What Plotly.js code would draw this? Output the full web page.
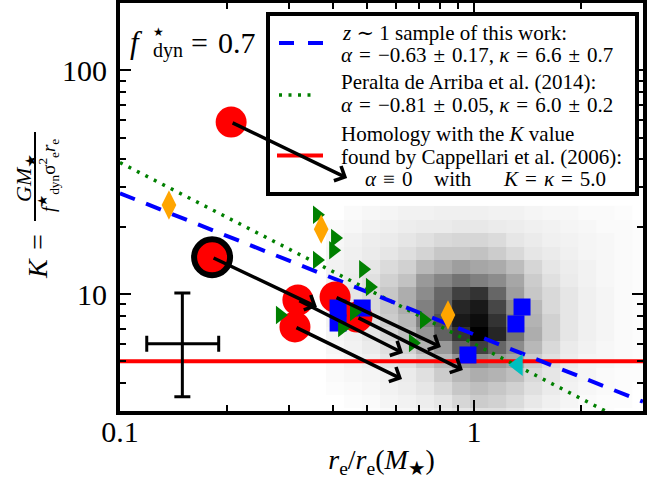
<!DOCTYPE html>
<html>
<head>
<meta charset="utf-8">
<script src="https://cdn.plot.ly/plotly-3.0.1.min.js"></script>
<style>html,body{margin:0;padding:0;background:#fff;}#chart{width:649px;height:480px;}</style>
</head>
<body>
<div id="chart"></div>
<script>
// ---------------- data ----------------
// fit / reference lines, endpoints at the axis limits
const fitX = [0.1, 3.0];
const thisWorkK = [28.2, 3.30];      // alpha=-0.63, kappa=6.6
const peraltaK  = [38.7, 2.46];      // alpha=-0.81, kappa=6.0
const homologyK = [5.0, 5.0];        // K = 5.0

// red circles (z~1 sample) and where their arrows point
const redX = [0.206, 0.318, 0.312, 0.405, 0.467];
const redY = [58.7, 9.40, 7.13, 9.70, 7.89];
const redEndX = [0.438, 0.630, 0.626, 0.806, 0.930];
const redEndY = [33.0, 5.45, 4.17, 5.80, 4.57];

// highlighted (outlined) red circle
const hiX = [0.182];
const hiY = [14.6];
const hiEndX = [0.360];
const hiEndY = [8.75];

// blue squares
const blueX = [0.961, 1.366, 1.313, 0.413, 0.413, 0.483];
const blueY = [5.34, 8.75, 7.35, 8.66, 7.42, 8.66];

// green right-pointing triangles
const greenX = [0.360, 0.405, 0.400, 0.360, 0.486, 0.508, 0.283, 0.458, 0.424, 0.722, 0.672];
const greenY = [22.6, 17.8, 15.7, 14.2, 12.9, 10.75, 8.06, 8.31, 7.05, 7.65, 6.04];

// orange thin diamonds
const orangeX = [0.1375, 0.370, 0.844];
const orangeY = [25.0, 19.5, 8.06];

// cyan left-pointing triangle
const cyanX = [1.33];
const cyanY = [4.82];

// typical error bar
const errX = [0.15];
const errY = [6.0];
const errXPlus = [0.040];
const errXMinus = [0.031];
const errYPlus = [4.1];
const errYMinus = [2.53];

// grey 2-D histogram of the comparison sample (edges + relative density, top row first)
const heatXEdges = [0.382, 0.429, 0.483, 0.542, 0.610, 0.685, 0.771, 0.866, 0.974, 1.095, 1.231, 1.383, 1.555, 1.748, 1.965, 2.209, 2.484, 2.792, 3.139];
const heatYEdgesTopDown = [24.75, 21.54, 18.75, 16.31, 14.20, 12.35, 10.75, 9.36, 8.15, 7.09, 6.17, 5.37, 4.67, 4.06, 3.54, 3.08, 2.68];
const heatZTopDown = [
 [0.00,0.02,0.03,0.04,0.05,0.05,0.06,0.06,0.06,0.05,0.05,0.04,0.03,0.03,0.02,0.02,0.01,0.00],
 [0.02,0.03,0.05,0.06,0.07,0.08,0.08,0.09,0.09,0.08,0.07,0.06,0.05,0.04,0.03,0.02,0.02,0.01],
 [0.03,0.05,0.07,0.08,0.10,0.12,0.15,0.16,0.16,0.14,0.10,0.08,0.06,0.05,0.04,0.03,0.02,0.01],
 [0.04,0.06,0.08,0.10,0.13,0.17,0.22,0.22,0.24,0.20,0.15,0.10,0.08,0.06,0.04,0.03,0.02,0.01],
 [0.05,0.07,0.10,0.14,0.18,0.28,0.33,0.38,0.35,0.33,0.26,0.16,0.10,0.07,0.05,0.03,0.02,0.01],
 [0.05,0.08,0.12,0.18,0.24,0.40,0.48,0.55,0.50,0.45,0.35,0.20,0.12,0.08,0.05,0.03,0.02,0.01],
 [0.06,0.10,0.15,0.22,0.32,0.45,0.60,0.75,0.80,0.60,0.38,0.22,0.15,0.10,0.06,0.04,0.02,0.01],
 [0.06,0.10,0.15,0.22,0.32,0.50,0.62,0.85,0.90,0.72,0.45,0.28,0.15,0.10,0.06,0.04,0.02,0.01],
 [0.05,0.08,0.12,0.20,0.28,0.50,0.68,0.90,0.95,0.80,0.50,0.30,0.18,0.10,0.06,0.04,0.02,0.01],
 [0.04,0.06,0.10,0.16,0.25,0.42,0.62,0.80,1.00,0.85,0.55,0.32,0.18,0.10,0.06,0.04,0.02,0.01],
 [0.03,0.05,0.08,0.12,0.18,0.30,0.40,0.62,0.75,0.60,0.45,0.28,0.15,0.08,0.05,0.03,0.02,0.01],
 [0.02,0.04,0.06,0.10,0.12,0.20,0.28,0.42,0.45,0.40,0.35,0.20,0.12,0.07,0.04,0.03,0.02,0.01],
 [0.02,0.03,0.04,0.06,0.08,0.12,0.20,0.28,0.32,0.30,0.25,0.15,0.10,0.06,0.04,0.02,0.01,0.01],
 [0.01,0.02,0.03,0.05,0.07,0.10,0.15,0.22,0.25,0.22,0.18,0.12,0.08,0.05,0.03,0.02,0.01,0.00],
 [0.00,0.01,0.02,0.04,0.05,0.07,0.10,0.16,0.20,0.18,0.14,0.09,0.06,0.04,0.02,0.01,0.01,0.00],
 [0.00,0.00,0.01,0.02,0.03,0.05,0.07,0.10,0.12,0.12,0.10,0.06,0.04,0.02,0.01,0.01,0.00,0.00]
];

// tick labels
const xTickVals = [0.1, 1];
const xTickText = ['0.1', '1'];
const yTickVals = [10, 100];
const yTickText = ['10', '100'];
const xMinorVals = [0.2, 0.3, 0.4, 0.5, 0.6, 0.7, 0.8, 0.9, 2, 3];
const yMinorVals = [3, 4, 5, 6, 7, 8, 9, 20, 30, 40, 50, 60, 70, 80, 90, 200];

// ---------------- drawing ----------------
const FONT = 'Liberation Serif, "DejaVu Serif", serif';
const L = 120, T = 3, W = 523, H = 408;
const px = v => (v - L) / W;
const py = v => (T + H - v) / H;
const NB = '\u00a0';
const SP = '\u2004';
const STAR = '<span style="font-family:DejaVu Sans">\u2605</span>';

const traces = [
  {type: 'heatmap', x: heatXEdges, y: heatYEdgesTopDown.slice().reverse(),
   z: heatZTopDown.slice().reverse(), zmin: 0, zmax: 1,
   colorscale: [[0, '#ffffff'], [1, '#000000']], showscale: false, hoverinfo: 'skip', zsmooth: false},
  {type: 'scatter', mode: 'lines', x: fitX, y: homologyK, line: {color: '#ff0000', width: 4}},
  {type: 'scatter', mode: 'lines', x: fitX, y: peraltaK, line: {color: '#008000', width: 3.5, dash: '3px,6.5px'}},
  {type: 'scatter', mode: 'lines', x: fitX, y: thisWorkK, line: {color: '#0000ff', width: 4, dash: '16px,12px'}},
  {type: 'scatter', mode: 'markers', x: errX, y: errY, marker: {size: 1, color: 'black'},
   error_x: {type: 'data', symmetric: false, array: errXPlus, arrayminus: errXMinus, color: 'black', thickness: 3, width: 8},
   error_y: {type: 'data', symmetric: false, array: errYPlus, arrayminus: errYMinus, color: 'black', thickness: 3, width: 8}},
  {type: 'scatter', mode: 'markers', x: redX, y: redY, marker: {symbol: 'circle', size: 31, color: '#ff0000', line: {width: 0}}},
  {type: 'scatter', mode: 'markers', x: hiX, y: hiY, marker: {symbol: 'circle', size: 36, color: '#ff0000', line: {width: 6, color: 'black'}}},
  {type: 'scatter', mode: 'markers', x: blueX, y: blueY, marker: {symbol: 'square', size: 17, color: '#0000ff', line: {width: 0}}},
  {type: 'scatter', mode: 'markers', x: greenX, y: greenY, marker: {symbol: 'triangle-right', size: 16, color: '#008000', line: {width: 0}}},
  {type: 'scatter', mode: 'markers', x: orangeX, y: orangeY, marker: {symbol: 'diamond-tall', size: 21, color: '#ffa500', line: {width: 0}}},
  {type: 'scatter', mode: 'markers', x: cyanX, y: cyanY, marker: {symbol: 'triangle-left', size: 19, color: '#00bfbf', line: {width: 0}}}
];

const annotations = [];
function arrow(x0, y0, x1, y1) {
  annotations.push({x: Math.log10(x1), y: Math.log10(y1), ax: Math.log10(x0), ay: Math.log10(y0),
    xref: 'x', yref: 'y', axref: 'x', ayref: 'y', text: '', showarrow: true,
    arrowhead: 4, arrowsize: 0.9, arrowwidth: 3.5, arrowcolor: 'black', standoff: 0, startstandoff: 0});
}
for (let i = 0; i < redX.length; i++) arrow(redX[i], redY[i], redEndX[i], redEndY[i]);
arrow(hiX[0], hiY[0], hiEndX[0], hiEndY[0]);

function txt(text, x, y, size, opts) {
  annotations.push(Object.assign({text: text, x: px(x), y: py(y), xref: 'paper', yref: 'paper',
    showarrow: false, xanchor: 'left', yanchor: 'middle', font: {family: FONT, size: size, color: 'black'}}, opts || {}));
}
// f*dyn = 0.7
txt('<i>f</i>', 128, 42, 31);
txt(STAR, 151, 32, 12);
txt('dyn', 151, 50, 20);
txt('=' + SP + '0.7', 189, 42, 30);

// y-axis title as a fraction
txt('<i>K</i>' + SP + '=', 37, 257, 28, {xanchor: 'center', textangle: -90});
txt('<i>GM</i><sub>' + STAR + '</sub>', 25, 178, 22, {xanchor: 'center', textangle: -90});
txt('<i>f</i><sup>' + STAR + '</sup><sub>dyn</sub>\u03c3<sup>2</sup><sub>e</sub><i>r</i><sub>e</sub>', 48, 176, 19, {xanchor: 'center', textangle: -90});

// legend text
const LF = 21;
txt('<i>z</i>' + NB + '\u223c' + NB + '1 sample of this work:', 340, 33, LF);
txt('<i>\u03b1</i>' + SP + '=' + SP + '\u22120.63' + SP + '\u00b1' + SP + '0.17, <i>\u03ba</i>' + SP + '=' + SP + '6.6' + SP + '\u00b1' + SP + '0.7', 339, 55, LF);
txt('Peralta de Arriba et al. (2014):', 339, 82.5, LF);
txt('<i>\u03b1</i>' + SP + '=' + SP + '\u22120.81' + SP + '\u00b1' + SP + '0.05, <i>\u03ba</i>' + SP + '=' + SP + '6.0' + SP + '\u00b1' + SP + '0.2', 339, 104.5, LF);
txt('Homology with the <i>K</i> value', 339, 134, LF);
txt('found by Cappellari et al. (2006):', 339, 156.5, LF);
txt('<i>\u03b1</i>' + SP + '\u2261' + SP + '0', 363, 178.5, LF);
txt('with', 432, 178.5, LF);
txt('<i>K</i>' + SP + '=' + SP + '<i>\u03ba</i>' + SP + '=' + SP + '5.0', 501, 178.5, LF);

const shapes = [
  {type: 'rect', xref: 'paper', yref: 'paper', x0: px(268), x1: px(637), y0: py(194), y1: py(14),
   fillcolor: 'white', line: {color: 'black', width: 4}, layer: 'above'},
  {type: 'line', xref: 'paper', yref: 'paper', x0: px(279), x1: px(323), y0: py(43), y1: py(43),
   line: {color: '#0000ff', width: 4, dash: '15px,14px'}, layer: 'above'},
  {type: 'line', xref: 'paper', yref: 'paper', x0: px(279), x1: px(316), y0: py(95), y1: py(95),
   line: {color: '#008000', width: 3.5, dash: '3px,6.5px'}, layer: 'above'},
  {type: 'line', xref: 'paper', yref: 'paper', x0: px(277), x1: px(323), y0: py(155.5), y1: py(155.5),
   line: {color: '#ff0000', width: 4}, layer: 'above'},
  {type: 'line', xref: 'paper', yref: 'paper', x0: px(35), x1: px(35), y0: py(132), y1: py(221),
   line: {color: 'black', width: 2}, layer: 'above'}
];

const axisCommon = {
  type: 'log', ticks: 'inside', ticklen: 11, tickwidth: 2, tickcolor: 'black',
  showline: true, linewidth: 4, linecolor: 'black', mirror: 'allticks',
  showgrid: false, zeroline: false, tickmode: 'array',
  tickfont: {family: FONT, size: 30, color: 'black'}, automargin: false
};

const layout = {
  width: 649, height: 480,
  margin: {l: L, r: 649 - L - W, t: T, b: 480 - T - H, pad: 0},
  paper_bgcolor: 'white', plot_bgcolor: 'white', showlegend: false,
  font: {family: FONT, color: 'black', size: 20},
  xaxis: Object.assign({}, axisCommon, {
    range: [Math.log10(0.1), Math.log10(3)], tickvals: xTickVals, ticktext: xTickText,
    ticklabelstandoff: -9,
    minor: {tickmode: 'array', tickvals: xMinorVals, ticks: 'inside', ticklen: 6, tickwidth: 2, tickcolor: 'black', showgrid: false},
    title: {text: '<i>r</i><sub>e</sub>/<i>r</i><sub>e</sub>(<i>M</i><sub>' + STAR + '</sub>)', font: {family: FONT, size: 28, color: 'black'}, standoff: 8}
  }),
  yaxis: Object.assign({}, axisCommon, {
    range: [Math.log10(3), Math.log10(200)], tickvals: yTickVals, ticktext: yTickText,
    ticklabelstandoff: 3,
    minor: {tickmode: 'array', tickvals: yMinorVals, ticks: 'inside', ticklen: 6, tickwidth: 2, tickcolor: 'black', showgrid: false}
  }),
  annotations: annotations,
  shapes: shapes
};

Plotly.newPlot('chart', traces, layout, {displayModeBar: false, staticPlot: true});
</script>
</body>
</html>
